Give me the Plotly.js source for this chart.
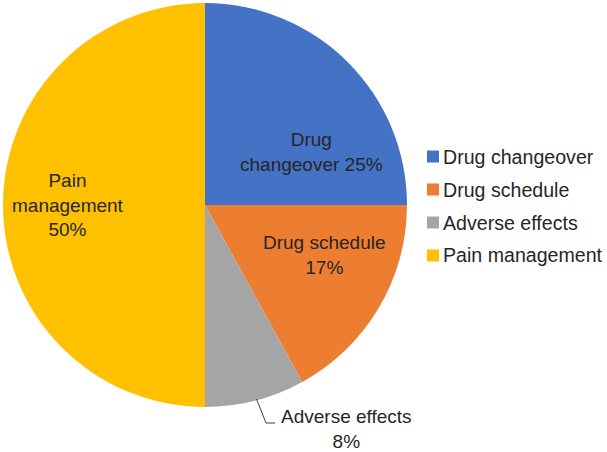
<!DOCTYPE html>
<html>
<head>
<meta charset="utf-8">
<script src="https://cdn.plot.ly/plotly-3.0.1.min.js"></script>
<style>html,body{margin:0;padding:0;background:#fff;}#chart{width:607px;height:452px;}</style>
</head>
<body>
<div id="chart"></div>
<script>
const categories = ["Drug changeover", "Drug schedule", "Adverse effects", "Pain management"];
const values = [25, 17, 8, 50];
const sliceText = ["Drug<br>changeover 25%", "Drug schedule<br>17%", "Adverse effects<br>8%", "Pain<br>management<br>50%"];
const colors = ["#4472C4", "#ED7D31", "#A5A5A5", "#FFC000"];

const W = 607, H = 452;
const px = x => x / W;
const py = y => 1 - y / H;
const FONT = "Liberation Sans, Arial, sans-serif";
const TXT = "#262626";
const FS = 19;
const LFS = 19.6;

const trace = {
  type: "pie",
  labels: categories,
  values: values,
  textinfo: "none",
  sort: false,
  direction: "clockwise",
  rotation: 0,
  marker: { colors: colors, line: { width: 0 } },
  domain: { x: [px(3), px(407)], y: [py(407), py(3)] },
  showlegend: false,
  hoverinfo: "label+percent"
};

// label block centres (layout positions, pixels)
const labelPos = [[311, 152], [325, 255.5], [346, 429], [68, 205]];

const annotations = [];
const shapes = [];
sliceText.forEach((t, i) => {
  annotations.push({
    xref: "paper", yref: "paper", x: px(labelPos[i][0]), y: py(labelPos[i][1]),
    text: t, showarrow: false,
    font: { family: FONT, size: FS, color: TXT },
    xanchor: "center", yanchor: "middle", align: "center"
  });
});
// leader line for the small slice
shapes.push({
  type: "path", xref: "paper", yref: "paper",
  path: `M ${px(256.5)} ${py(399)} L ${px(266)} ${py(423)} L ${px(275)} ${py(423)}`,
  line: { color: "#404040", width: 1 }
});
// Legend
categories.forEach((c, i) => {
  const yc = 156.5 + 33 * i;
  shapes.push({
    type: "rect", xref: "paper", yref: "paper",
    x0: px(427), x1: px(439), y0: py(yc + 6), y1: py(yc - 6),
    fillcolor: colors[i], line: { width: 0 }
  });
  annotations.push({
    xref: "paper", yref: "paper", x: px(441), y: py(yc),
    text: c, showarrow: false,
    font: { family: FONT, size: LFS, color: TXT },
    xanchor: "left", yanchor: "middle"
  });
});

const layout = {
  width: W, height: H,
  margin: { l: 0, r: 0, t: 0, b: 0 },
  paper_bgcolor: "#fff",
  showlegend: false,
  annotations: annotations,
  shapes: shapes,
  font: { family: FONT }
};

Plotly.newPlot("chart", [trace], layout, { displayModeBar: false });
</script>
</body>
</html>
